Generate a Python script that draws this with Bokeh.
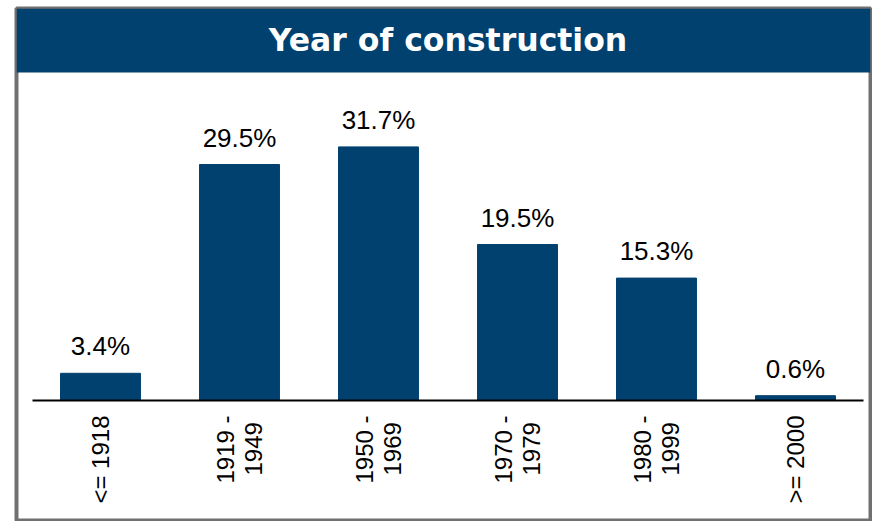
import math
from bokeh.plotting import figure
from bokeh.models import Range1d, ColumnDataSource, Label, BoxAnnotation, FixedTicker
from bokeh.embed import file_html
from bokeh.resources import INLINE
from bokeh.core.properties import value

# ---- data ----
categories = ["<= 1918", "1919 -\n1949", "1950 -\n1969", "1970 -\n1979", "1980 -\n1999", ">= 2000"]
shares = [3.4, 29.5, 31.7, 19.5, 15.3, 0.6]
value_labels = [f"{v:.1f}%" for v in shares]
title_text = "Year of construction"

# ---- style / layout ----
BLUE = "#00416f"
GREY = "#707070"
W, H = 872, 521
FRAME_L, FRAME_T, FRAME_R, FRAME_B = 16, 8, 870, 521   # frame edges in px
AXIS_PX = 400          # baseline position (px from top)
PX_PER_UNIT_Y = 8.0    # px per percentage point
FIRST_PX, STEP_PX = 100.0, 139.0   # first category centre, category spacing

pos = list(range(len(categories)))
src = ColumnDataSource(dict(x=pos, share=shares, lab=value_labels))

x_start = (FRAME_L - FIRST_PX) / STEP_PX
x_end = (FRAME_R - FIRST_PX) / STEP_PX
y_end = (AXIS_PX - FRAME_T) / PX_PER_UNIT_Y
y_start = (AXIS_PX - FRAME_B) / PX_PER_UNIT_Y

p = figure(width=W, height=H, output_backend="svg", toolbar_location=None,
           title=None,
           x_range=Range1d(x_start, x_end), y_range=Range1d(y_start, y_end),
           y_axis_location=None,
           min_border_left=FRAME_L, min_border_right=W - FRAME_R,
           min_border_top=FRAME_T, min_border_bottom=H - FRAME_B)
p.background_fill_color = "white"
p.border_fill_color = "white"
p.outline_line_color = GREY
p.outline_line_width = 4
p.xgrid.visible = False
p.ygrid.visible = False

# title bar
p.add_layout(BoxAnnotation(bottom=(AXIS_PX - 72) / PX_PER_UNIT_Y, fill_color=BLUE, fill_alpha=1.0,
                           line_color=None, level="underlay"))
p.add_layout(Label(x=(len(categories) - 1) / 2, y=(AXIS_PX - 39.5) / PX_PER_UNIT_Y, text=title_text,
                   text_align="center", text_baseline="alphabetic",
                   text_color="white", text_font="DejaVu Sans", text_font_style="bold",
                   text_font_size="31.5px"))

# bars and value labels
p.vbar(x="x", top="share", width=0.575, bottom=0, source=src,
       fill_color=BLUE, line_color=BLUE)
p.text(x="x", y="share", text="lab", source=src, text_align="center",
       text_baseline="alphabetic", y_offset=-27, text_font=value("Liberation Sans"),
       text_font_size="26px", text_color="black")

# category axis
def tick_label(c):
    parts = c.split("\n")
    if len(parts) == 2:
        # centre the shorter second line under the first one
        return parts[0] + "\n" + parts[1] + "\u00a0"
    return c

ax = p.xaxis[0]
ax.ticker = FixedTicker(ticks=pos)
ax.major_label_overrides = {i: tick_label(c) for i, c in zip(pos, categories)}
ax.fixed_location = 0
ax.bounds = (-0.49, len(categories) - 1 + 0.49)
ax.axis_line_color = "black"
ax.axis_line_width = 2
ax.major_tick_line_color = None
ax.minor_tick_line_color = None
ax.major_tick_out = 0
ax.major_tick_in = 0
ax.major_label_orientation = math.pi / 2
ax.major_label_standoff = 15
ax.major_label_text_font = "Liberation Sans"
ax.major_label_text_font_size = "24px"
ax.major_label_text_line_height = 1.03
ax.major_label_text_color = "black"

open("out.html", "w").write(file_html(p, INLINE))
